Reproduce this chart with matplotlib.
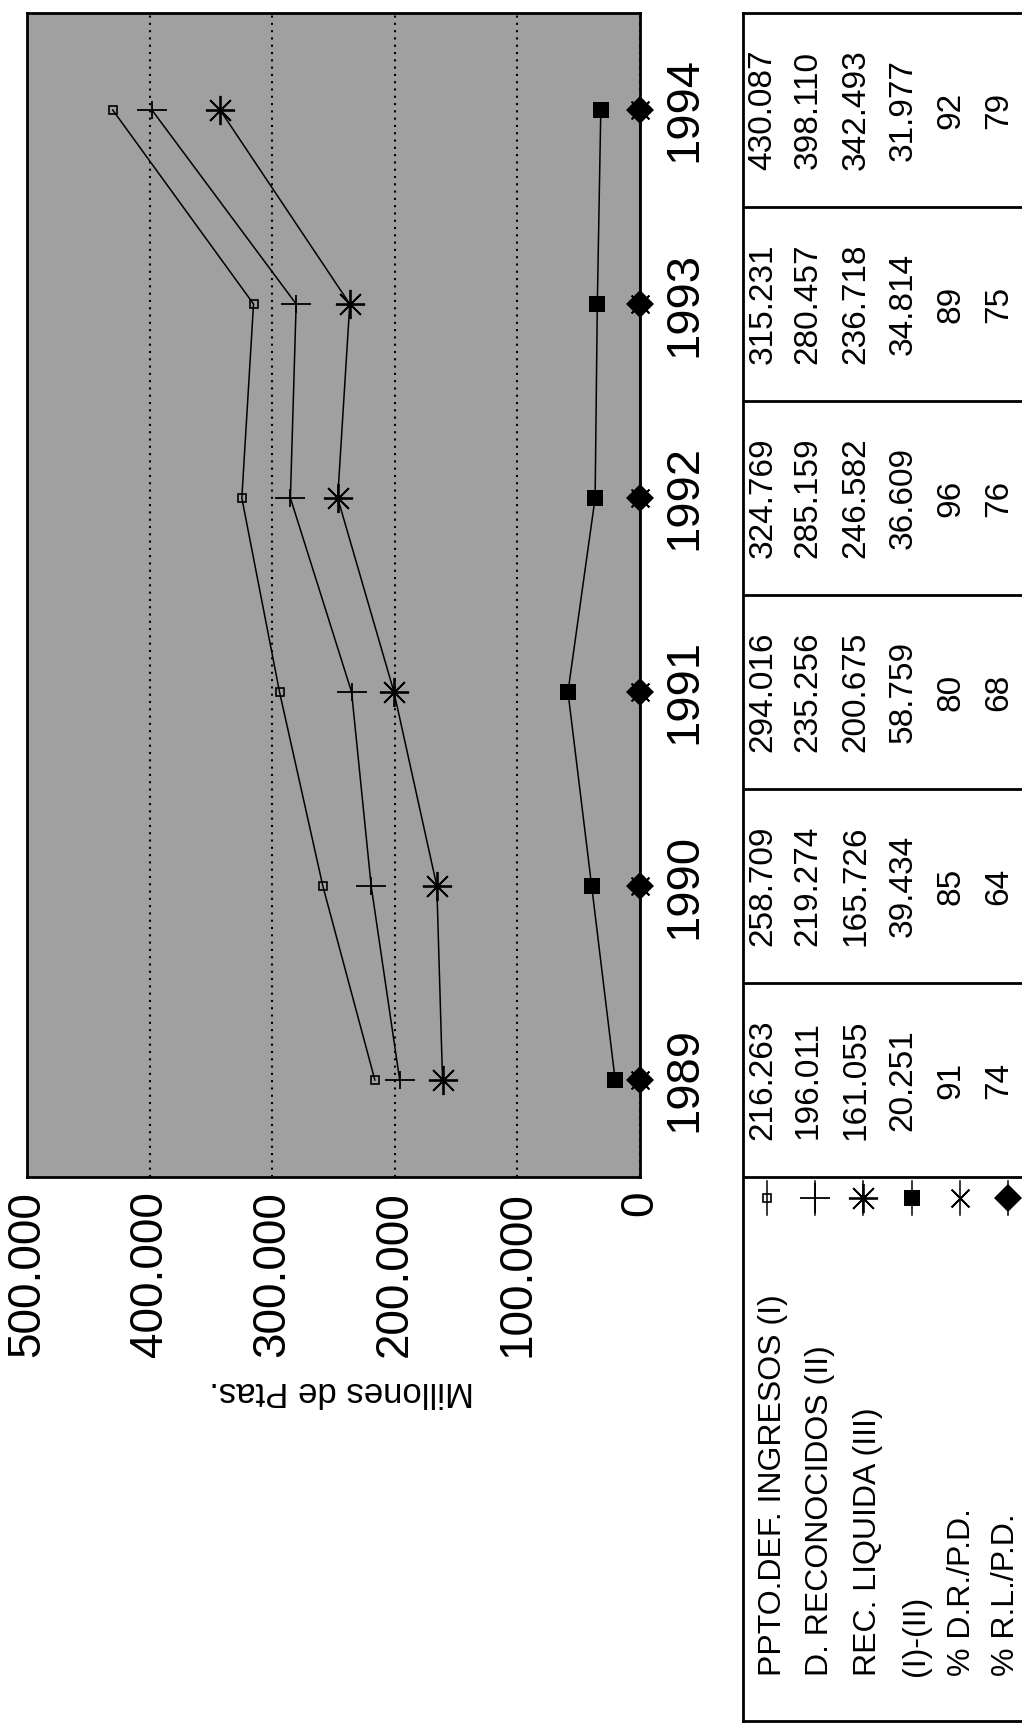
import matplotlib.pyplot as plt
from matplotlib.path import Path
from matplotlib.transforms import ScaledTranslation

plt.rcParams['font.family'] = ['Liberation Sans', 'DejaVu Sans']

# data, values in millions of pesetas
years = [1989, 1990, 1991, 1992, 1993, 1994]
ppto_def = [216263, 258709, 294016, 324769, 315231, 430087]
d_reconocidos = [196011, 219274, 235256, 285159, 280457, 398110]
rec_liquida = [161055, 165726, 200675, 246582, 236718, 342493]
dif_i_ii = [20251, 39434, 58759, 36609, 34814, 31977]
pct_dr_pd = [91, 85, 80, 96, 89, 92]
pct_rl_pd = [74, 64, 68, 76, 75, 79]

row_labels = ["PPTO.DEF. INGRESOS (I)", "D. RECONOCIDOS (II)",
              "REC. LIQUIDA (III)", "(I)-(II)", "% D.R./P.D.", "% R.L./P.D."]
value_ticks = [0, 100000, 200000, 300000, 400000, 500000]
axis_label = "Millones de Ptas."

series = [ppto_def, d_reconocidos, rec_liquida, dif_i_ii, pct_dr_pd, pct_rl_pd]

# plus that is long along the value axis, shorter along the years
long_plus = Path([(-1, 0), (1, 0), (0, -0.6), (0, 0.6)],
                 [Path.MOVETO, Path.LINETO, Path.MOVETO, Path.LINETO])

# marker styles per row
styles = [
    dict(marker='s', ms=6, mfc='none', mew=1.2),
    dict(marker=long_plus, ms=21, mew=1.3),
    dict(marker=(8, 2, 0), ms=21, mew=1.3),
    dict(marker='s', ms=12, mfc='black', mew=0),
    dict(marker=(4, 2, 45), ms=18, mew=1.3),
    dict(marker='D', ms=14, mfc='black', mew=0),
]


def fmt(v):
    return f"{v:,}".replace(",", ".")


W, H = 1022, 1723
PX_YEAR = 194.0


def fx(px):
    return px / W


def fy(py):
    return 1 - py / H


fig = plt.figure(figsize=(W / 100, H / 100), dpi=100)

# chart, drawn rotated: values run right->left, years bottom->top
ax = fig.add_axes([fx(27), fy(1177), fx(640) - fx(27), fy(13) - fy(1177)])
ax.set_xlim(500000, 0)
ax.set_ylim(1988.5, 1994.5)
ax.set_facecolor('#a0a0a0')

ax.set_xticks(value_ticks)
ax.set_xticklabels([fmt(v) for v in value_ticks], rotation=90, fontsize=33)
shift = ScaledTranslation(6 / 100, 0, fig.dpi_scale_trans)
for lab in ax.get_xticklabels():
    lab.set_transform(lab.get_transform() + shift)
ax.xaxis.grid(True, color='black', lw=1.5, ls=(0, (1, 2.5)))
ax.set_axisbelow(True)

ax.yaxis.tick_right()
ax.set_yticks(years)
ax.set_yticklabels([str(y) for y in years], rotation=90, va='center', fontsize=34)
ax.tick_params(length=0)
ax.tick_params(axis='x', pad=10)
ax.tick_params(axis='y', pad=16)

for s in ax.spines.values():
    s.set_linewidth(2)

for vals, st in zip(series, styles):
    ax.plot(vals, years, color='black', lw=1.1, mec='black', clip_on=False, **st)

ax.set_xlabel(axis_label, rotation=180, fontsize=25)
ax.xaxis.set_label_coords((342 - 27) / 613, (1177 - 1392) / 1164)
ax.xaxis.label.set_va('center')

# data table below the chart (rotated too)
tax = fig.add_axes([fx(743), fy(1721), fx(1045) - fx(743), fy(13) - fy(1721)])
tax.set_xlim(743, 1045)
tax.set_ylim(1994.5 - (1721 - 13) / PX_YEAR, 1994.5)
tax.set_xticks([])
tax.set_yticks([])
for s in tax.spines.values():
    s.set_linewidth(2)

for b in [1988.5, 1989.5, 1990.5, 1991.5, 1992.5, 1993.5]:
    tax.axhline(b, color='black', lw=2)

num_x = [763, 808, 856, 903, 951, 999]
mark_x = [767, 815, 863, 912, 960, 1008]
text_x = [773, 820, 868, 916, 962, 1006]

y_mark = 1994.5 - (1198 - 13) / PX_YEAR
y_text = 1994.5 - (1676 - 13) / PX_YEAR
half = 17 / PX_YEAR

legend_styles = [dict(st) for st in styles]
legend_styles[1]['marker'] = '+'

for i, (vals, st) in enumerate(zip(series, legend_styles)):
    for yr, v in zip(years, vals):
        tax.text(num_x[i], yr, fmt(v), rotation=90, ha='center', va='center',
                 fontsize=24)
    tax.plot([mark_x[i], mark_x[i]], [y_mark - half, y_mark + half],
             color='black', lw=1.1)
    tax.plot([mark_x[i]], [y_mark], color='black', mec='black', **st)
    tax.text(text_x[i], y_text, row_labels[i], rotation=90,
             rotation_mode='anchor', ha='left', va='center', fontsize=23)

fig.savefig('out.png', dpi=100)
